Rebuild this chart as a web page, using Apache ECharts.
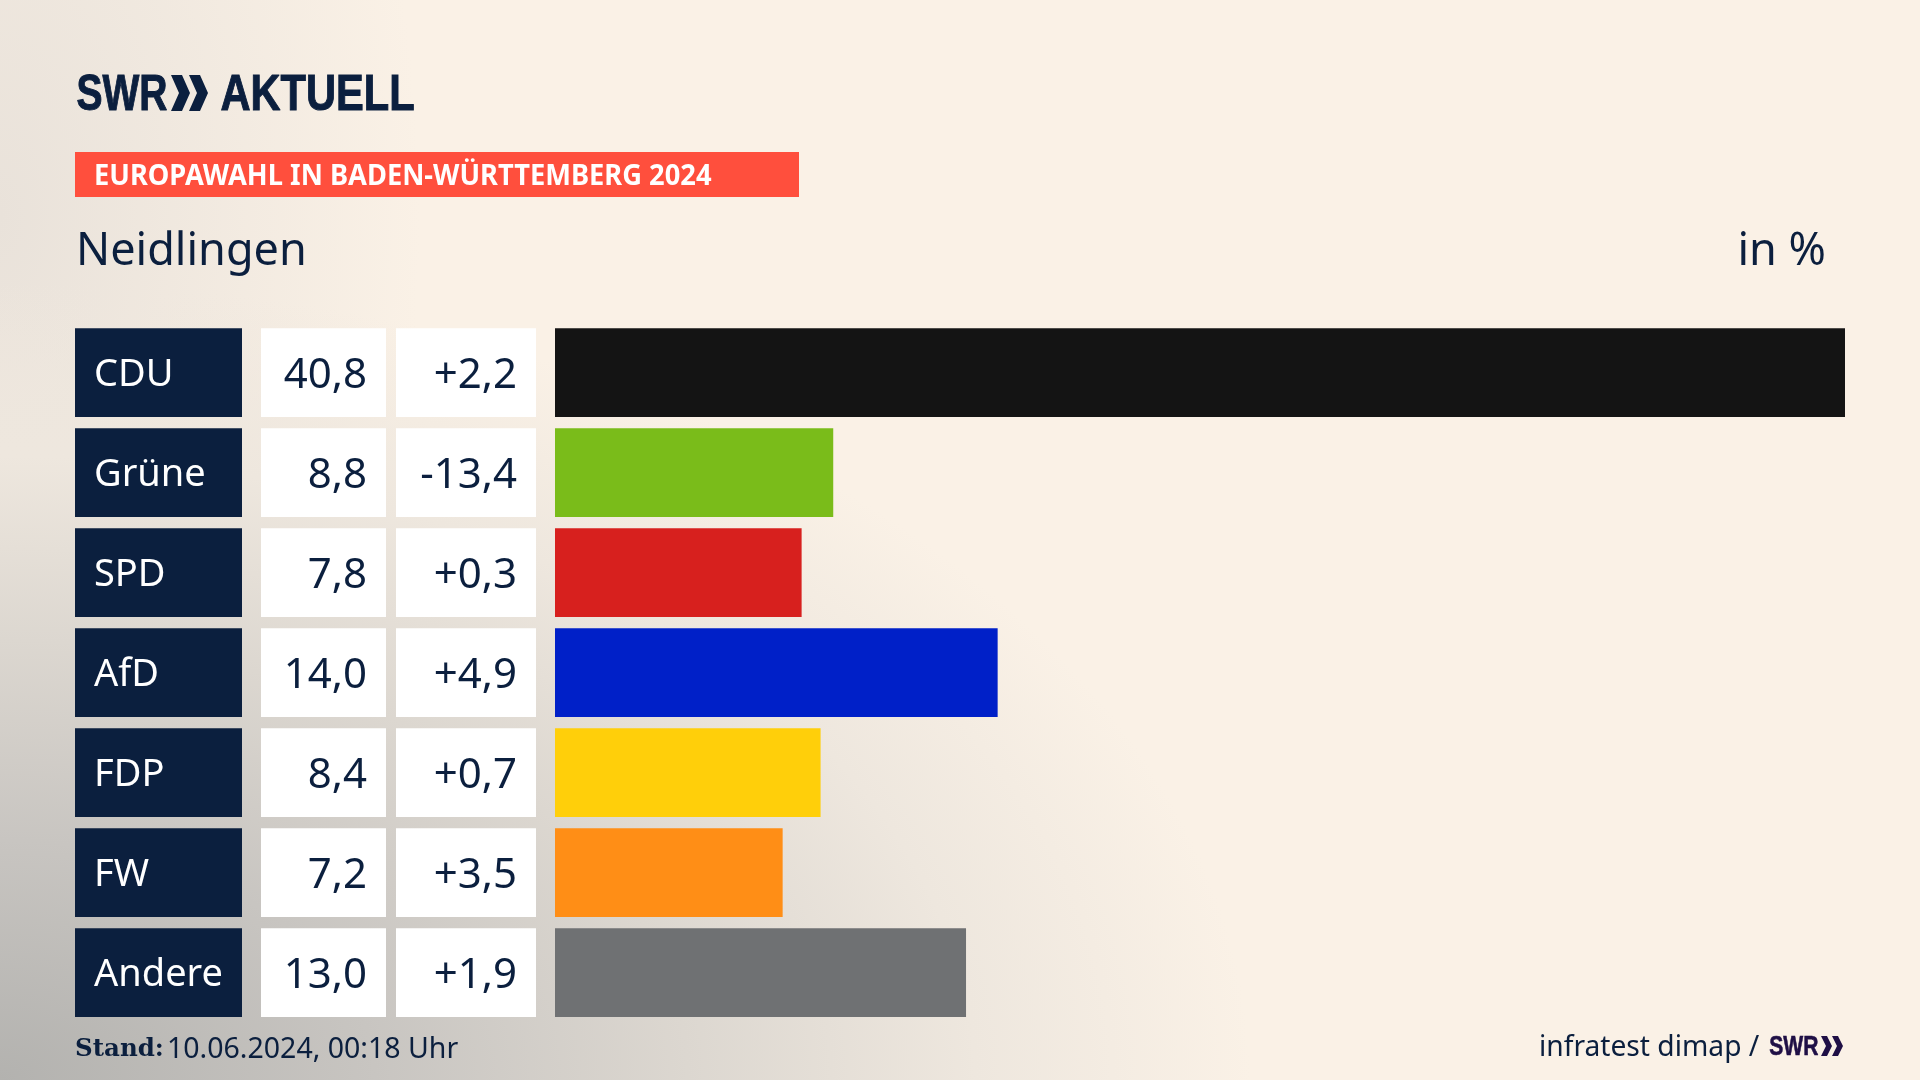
<!DOCTYPE html>
<html>
<head>
<meta charset="utf-8">
<title>Europawahl Neidlingen</title>
<script src="https://cdn.jsdelivr.net/npm/echarts@6/dist/echarts.min.js"></script>
<style>
html,body{margin:0;padding:0;width:1920px;height:1080px;overflow:hidden;background:#faf1e6}
#main{width:1920px;height:1080px;
  background:
    radial-gradient(ellipse 1250px 800px at 0% 100%, #b3b2af 0%, #c8c5c1 30%, #dcd7d0 55%, #eee7de 78%, rgba(250,241,230,0) 100%),
    radial-gradient(ellipse 420px 800px at 0% 20%, #e9e2da 0%, rgba(250,241,230,0) 100%),
    #faf1e6}
</style>
</head>
<body>
<div id="main"></div>
<script>
var parties = ["CDU","Grüne","SPD","AfD","FDP","FW","Andere"];
var shares  = [40.8,8.8,7.8,14.0,8.4,7.2,13.0];
var changes = [2.2,-13.4,0.3,4.9,0.7,3.5,1.9];
var colors  = ["#141414","#7abc1a","#d7201e","#0020c8","#ffcf0a","#ff8e16","#6f7173"];
var boxFill = [1,1,1,1,1,1,1];   // cells are full width bars

var navy = "#0b1f3e";
var font = "'Noto Sans'";

function comma(v){ return v.toFixed(1).replace(".",","); }

// one row-grid per column, all same vertical layout
var gridTop = 322.6, gridH = 700, rowH = 88.6;
function grid(left,width){ return {left:left,width:width,top:gridTop,height:gridH,containLabel:false}; }
function xAx(i,max){ return {gridIndex:i,type:"value",min:0,max:max,show:false}; }
function yAx(i){ return {gridIndex:i,type:"category",data:parties,inverse:true,show:false}; }

function cell(i,color,textColor,pos,size,fmt){
    return {
        type:"bar",xAxisIndex:i,yAxisIndex:i,barWidth:rowH,silent:true,
        data:boxFill,itemStyle:{color:color},
        label:{show:true,position:pos,distance:19,offset:[0,3],color:textColor,fontFamily:font,fontSize:size,formatter:fmt}
    };
}
function chevron(x,y,w,h,t){
    return [[x,y],[x+t,y],[x+w,y+h/2],[x+t,y+h],[x,y+h],[x+w-t,y+h/2]];
}

var Mychart = echarts.init(document.getElementById("main"));
var option = {
    animation:false,
    grid:[grid(75,167),grid(261,125),grid(396,140),grid(555,1290)],
    xAxis:[xAx(0,1),xAx(1,1),xAx(2,1),xAx(3,40.8)],
    yAxis:[yAx(0),yAx(1),yAx(2),yAx(3)],
    series:[
        cell(0,navy,"#ffffff","insideLeft",38,function(p){return parties[p.dataIndex];}),
        cell(1,"#ffffff",navy,"insideRight",42,function(p){return comma(shares[p.dataIndex]);}),
        cell(2,"#ffffff",navy,"insideRight",42,function(p){
            var v=changes[p.dataIndex];
            return (v>0?"+":"")+comma(v);
        }),
        {
            type:"bar",xAxisIndex:3,yAxisIndex:3,barWidth:rowH,silent:true,
            data:shares.map(function(v,i){return {value:v,itemStyle:{color:colors[i]}};})
        }
    ],
    graphic:[
        // logo
        {type:"text",left:76,top:71,scaleX:0.78,style:{text:"SWR",fontFamily:"'Liberation Sans'",fontWeight:"bold",fontSize:50,fill:navy,stroke:navy,lineWidth:1}},
        {type:"polygon",shape:{points:chevron(171,75,19,36,11)},style:{fill:navy}},
        {type:"polygon",shape:{points:chevron(189,75,19,36,11)},style:{fill:navy}},
        {type:"text",left:220,top:71,scaleX:0.833,style:{text:"AKTUELL",fontFamily:"'Liberation Sans'",fontWeight:"bold",fontSize:50,fill:navy,stroke:navy,lineWidth:1}},
        // red band
        {type:"rect",shape:{x:75,y:152,width:724,height:45},style:{fill:"#ff4f3d"}},
        {type:"text",left:94,top:163,scaleX:0.974,style:{text:"EUROPAWAHL IN BADEN-WÜRTTEMBERG 2024",fontFamily:font,fontWeight:"bold",fontSize:28,fill:"#ffffff"}},
        // heading
        {type:"text",left:76,top:230,style:{text:"Neidlingen",fontFamily:font,fontSize:45,fill:navy}},
        {type:"text",right:94,top:230,style:{text:"in %",fontFamily:font,fontSize:45,fill:navy}},
        // footer
        {type:"text",left:75,top:1037,style:{text:"Stand:",fontFamily:"'DejaVu Serif'",fontWeight:"bold",fontSize:24.5,fill:navy}},
        {type:"text",left:167,top:1035,style:{text:"10.06.2024, 00:18 Uhr",fontFamily:font,fontSize:28.5,fill:navy}},
        {type:"text",left:1539,top:1034,style:{text:"infratest dimap /",fontFamily:font,fontSize:28.2,fill:navy}},
        {type:"text",left:1769,top:1034,scaleX:0.78,style:{text:"SWR",fontFamily:"'Liberation Sans'",fontWeight:"bold",fontSize:27,fill:"#1f0f45",stroke:"#1f0f45",lineWidth:0.6}},
        {type:"polygon",shape:{points:chevron(1821,1036,11,20,6)},style:{fill:"#1f0f45"}},
        {type:"polygon",shape:{points:chevron(1832,1036,11,20,6)},style:{fill:"#1f0f45"}}
    ]
};
Mychart.setOption(option);
</script>
</body>
</html>
